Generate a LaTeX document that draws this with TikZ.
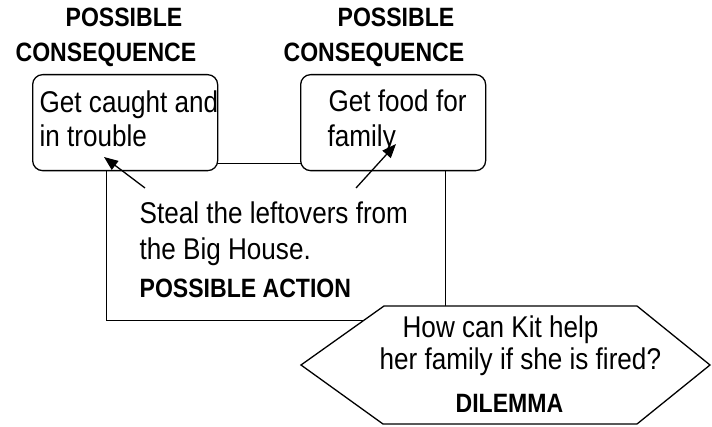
\documentclass[tikz,border=0pt]{standalone}
\usepackage{fontspec}
\setmainfont{Liberation Sans}[FakeStretch=0.87]
\usetikzlibrary{arrows.meta}
\begin{document}
\begin{tikzpicture}[x=1pt,y=-1pt,line width=1.3pt,
  body/.style={font=\fontsize{30}{35}\selectfont, anchor=base west, inner sep=0pt},
  head/.style={font=\fontsize{26.5}{32}\selectfont\bfseries, anchor=base west, inner sep=0pt},
  cbox/.style={draw, fill=white, rounded corners=10pt, anchor=north west, inner sep=0pt, minimum width=185pt, minimum height=96pt},
  abox/.style={draw, anchor=north west, inner sep=0pt, minimum width=339pt, minimum height=157pt},
  arr/.style={-{Triangle[length=14pt,width=11pt]}, line width=1.3pt}]
\useasboundingbox (0,0) rectangle (712,427);
% action frame (its top edge is the link between the two consequence boxes)
\node[abox] (act) at (106,163) {};
% consequence boxes
\node[cbox] (cons1) at (32,74) {};
\node[cbox] (cons2) at (300,74) {};
% dilemma hexagon
\coordinate (h1) at (384,306);
\coordinate (h2) at (637,306);
\coordinate (h3) at (710,365);
\coordinate (h4) at (637,424);
\coordinate (h5) at (383,424);
\coordinate (h6) at (301,365);
\draw[fill=white] (h1) -- (h2) -- (h3) -- (h4) -- (h5) -- (h6) -- cycle;
% headings
\node[head] (p1) at (65,27) {POSSIBLE};
\node[head] (c1) at (15,62) {CONSEQUENCE};
\node[head] (p2) at (337,27) {POSSIBLE};
\node[head] (c2) at (283,62) {CONSEQUENCE};
% box texts
\node[body] (t1a) at (39,113) {Get caught and};
\node[body] (t1b) at (39,147) {in trouble};
\node[body] (t2a) at (328,112) {Get food for};
\node[body] (t2b) at (327,147) {family};
% action text
\node[body] (s1) at (139,224) {Steal the leftovers from};
\node[body] (s2) at (139,260) {the Big House.};
\node[head] (s3) at (139,298) {POSSIBLE ACTION};
% dilemma text
\node[body] (d1) at (402,338) {How can Kit help};
\node[body] (d2) at (379,370) {her family if she is fired?};
\node[head] (d3) at (455,413) {DILEMMA};
% arrows
\coordinate (a1s) at (145,188);
\coordinate (a1e) at (104,157);
\coordinate (a2s) at (356,188);
\coordinate (a2e) at (396,144);
\draw[arr] (a1s) -- (a1e);
\draw[arr] (a2s) -- (a2e);
\end{tikzpicture}
\end{document}
